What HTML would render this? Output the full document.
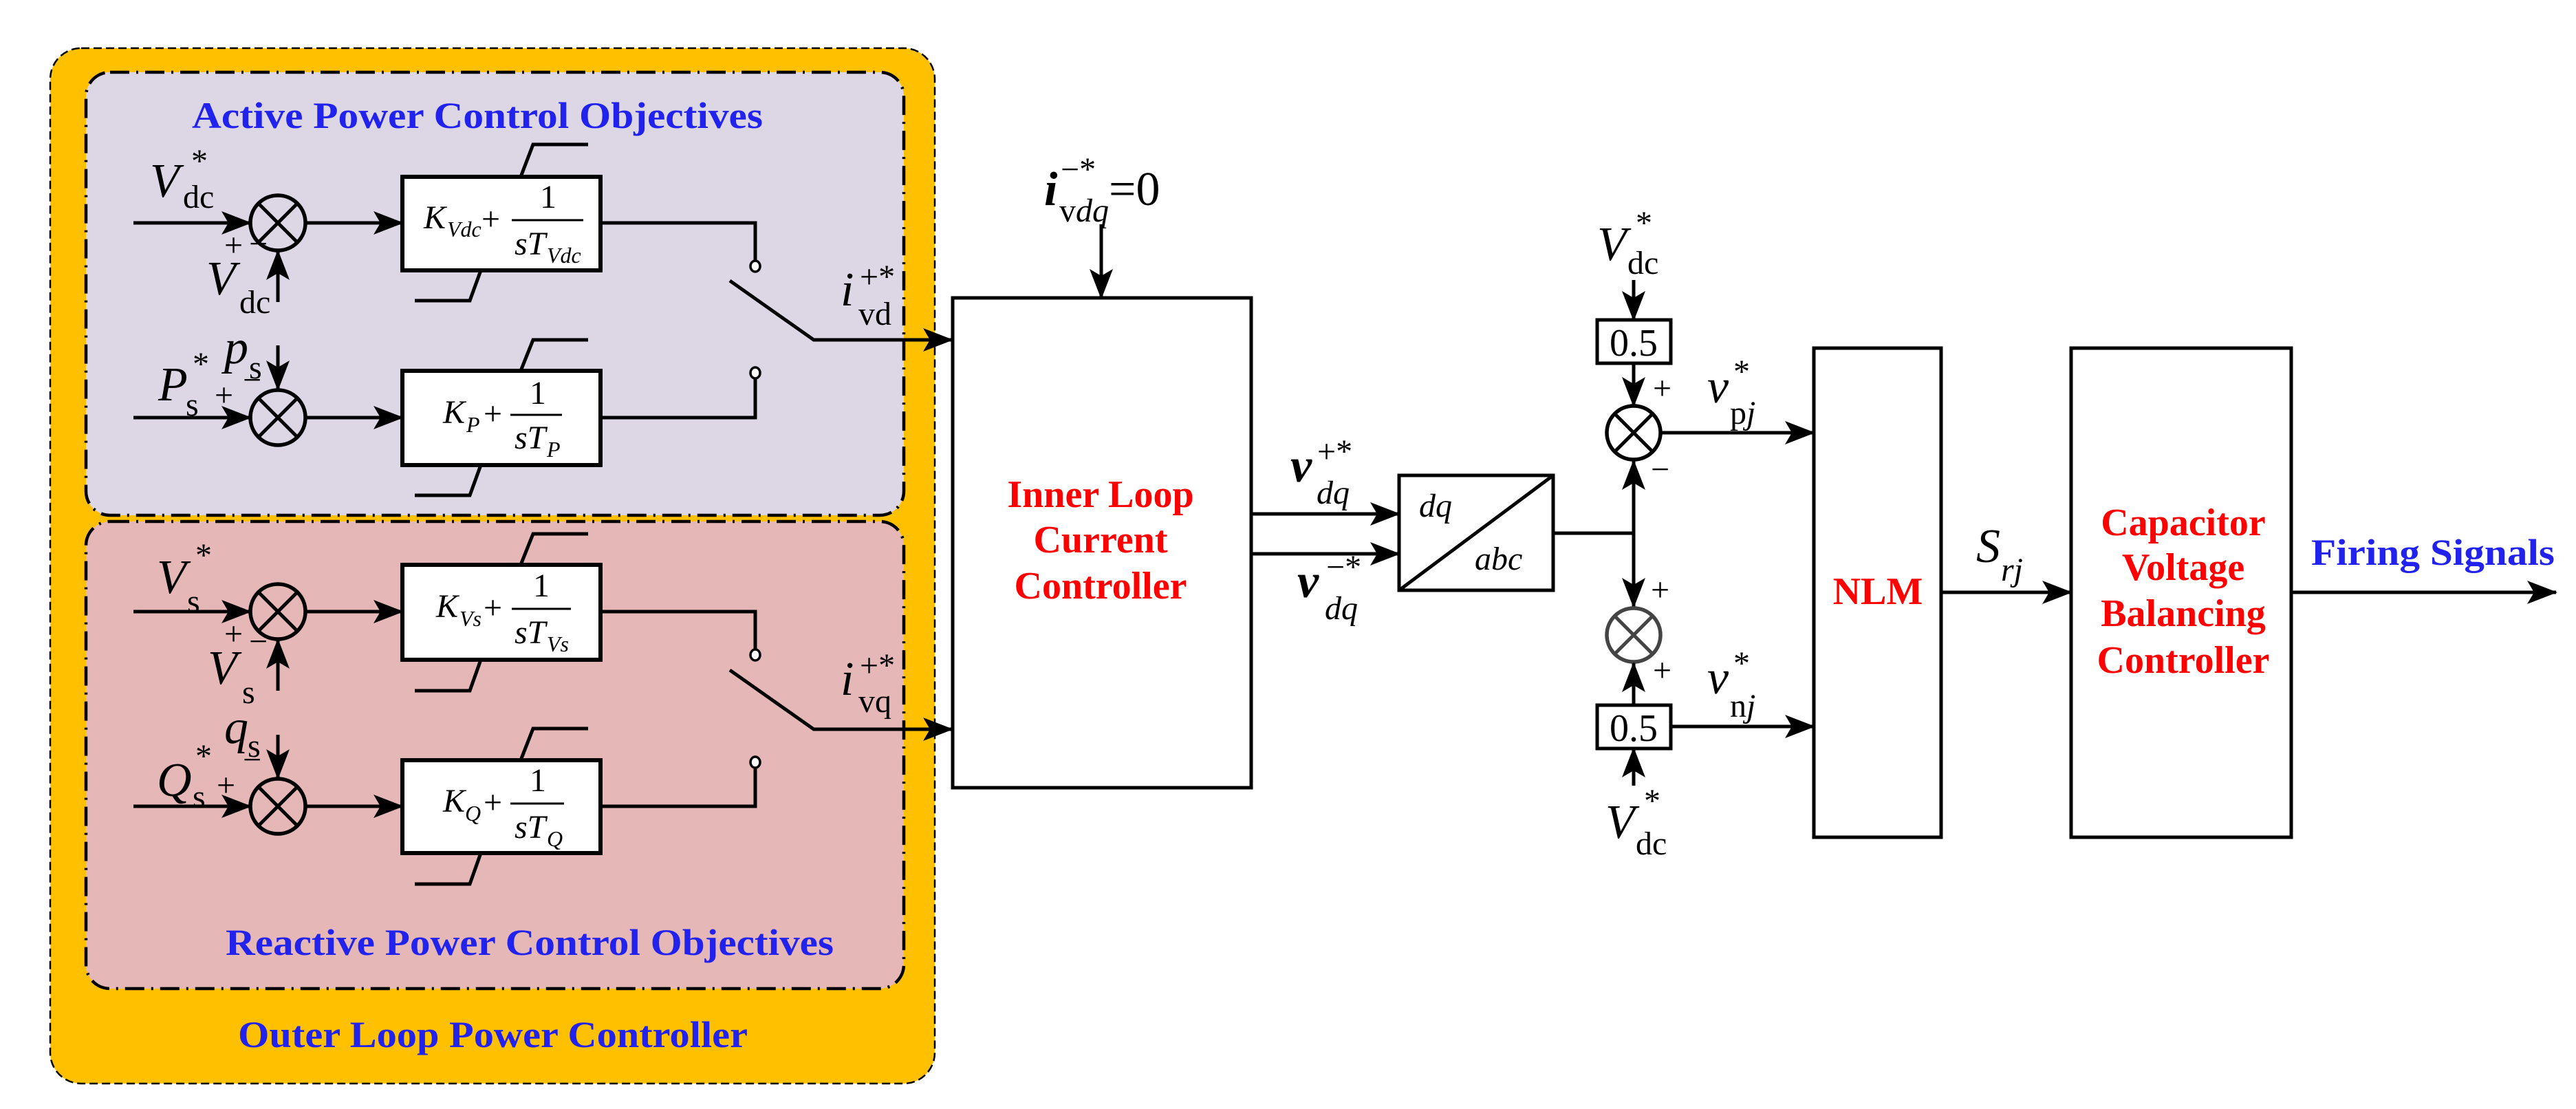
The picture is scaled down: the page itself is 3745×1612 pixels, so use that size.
<!DOCTYPE html>
<html><head><meta charset="utf-8"><style>
html,body{margin:0;padding:0;background:#fff}
svg{display:block}
svg text, svg tspan{font-family:"Liberation Serif","DejaVu Serif",serif !important}
.v{font-style:italic;font-size:70px}
.s{font-size:48px}
.si{font-size:48px;font-style:italic}
.f{font-size:48px}
.fs{font-size:32px}
.ttl{font-weight:bold;fill:#2222EE;font-size:54px}
.red{font-weight:bold;fill:#FF0000;font-size:56px}
</style></head><body>
<svg width="3745" height="1612" viewBox="0 0 3745 1612" xmlns="http://www.w3.org/2000/svg" font-family="Liberation Serif, serif">
<defs>
<marker id="a" markerUnits="userSpaceOnUse" markerWidth="44" markerHeight="34" refX="42" refY="17" orient="auto">
<path d="M0,0 L44,17 L0,34 L10,17 z" fill="#000"/>
</marker>
</defs>
<rect x="73" y="70" width="1286" height="1505" rx="45" fill="#FFC000" stroke="#000" stroke-width="2.5" stroke-dasharray="12,6"/>
<rect x="125" y="105" width="1189" height="644" rx="35" fill="#DCD6E5" stroke="#000" stroke-width="4.5" stroke-dasharray="28,10,3,10"/>
<rect x="125" y="758" width="1189" height="679" rx="35" fill="#E5B8B7" stroke="#000" stroke-width="4.5" stroke-dasharray="28,10,3,10"/>
<text x="279" y="186" class="ttl" textLength="830" lengthAdjust="spacingAndGlyphs">Active Power Control Objectives</text>
<text x="328" y="1388" class="ttl" textLength="884" lengthAdjust="spacingAndGlyphs">Reactive Power Control Objectives</text>
<text x="346" y="1522" class="ttl" textLength="741" lengthAdjust="spacingAndGlyphs">Outer Loop Power Controller</text>

<g stroke="#000" stroke-width="5" fill="none">
<line x1="194" y1="324" x2="364" y2="324" marker-end="url(#a)"/>
<line x1="444" y1="324" x2="585" y2="324" marker-end="url(#a)"/>
<line x1="194" y1="607" x2="364" y2="607" marker-end="url(#a)"/>
<line x1="444" y1="607" x2="585" y2="607" marker-end="url(#a)"/>
<line x1="194" y1="889" x2="364" y2="889" marker-end="url(#a)"/>
<line x1="444" y1="889" x2="585" y2="889" marker-end="url(#a)"/>
<line x1="194" y1="1172" x2="364" y2="1172" marker-end="url(#a)"/>
<line x1="444" y1="1172" x2="585" y2="1172" marker-end="url(#a)"/>
<line x1="404" y1="439" x2="404" y2="365" marker-end="url(#a)"/>
<line x1="404" y1="502" x2="404" y2="566" marker-end="url(#a)"/>
<line x1="404" y1="1004" x2="404" y2="930" marker-end="url(#a)"/>
<line x1="404" y1="1068" x2="404" y2="1131" marker-end="url(#a)"/>
<g stroke-width="5.5" fill="#DCD6E5">
<circle cx="404" cy="324" r="40"/><circle cx="404" cy="607" r="40"/>
</g>
<g stroke-width="5.5" fill="#E5B8B7">
<circle cx="404" cy="889" r="40"/><circle cx="404" cy="1172" r="40"/>
</g>
<path d="M376,296 L432,352 M432,296 L376,352 M376,579 L432,635 M432,579 L376,635 M376,861 L432,917 M432,861 L376,917 M376,1144 L432,1200 M432,1144 L376,1200"/>
<g stroke-width="6" fill="#fff">
<rect x="585" y="257" width="288" height="136"/>
<rect x="585" y="539" width="288" height="137"/>
<rect x="585" y="821" width="288" height="138"/>
<rect x="585" y="1105" width="288" height="135"/>
</g>
<path d="M757,257 L775,210 L855,210 M699,393 L683,437 L603,437"/>
<path d="M757,539 L775,494 L855,494 M699,676 L683,720 L603,720"/>
<path d="M757,821 L775,776 L855,776 M699,959 L683,1004 L603,1004"/>
<path d="M757,1105 L775,1059 L855,1059 M699,1240 L683,1285 L603,1285"/>
<path d="M873,324 L1098,324 L1098,380"/>
<path d="M873,607 L1098,607 L1098,550"/>
<path d="M873,889 L1098,889 L1098,945"/>
<path d="M873,1172 L1098,1172 L1098,1116"/>
<g stroke-width="3.5" fill="#fff">
<ellipse cx="1098" cy="387" rx="7" ry="8"/><ellipse cx="1098" cy="542" rx="7" ry="8"/>
<ellipse cx="1098" cy="952" rx="7" ry="8"/><ellipse cx="1098" cy="1108" rx="7" ry="8"/>
</g>
<path d="M1061,408 L1183,494 L1384,494" marker-end="url(#a)"/>
<path d="M1061,974 L1183,1060 L1384,1060" marker-end="url(#a)"/>
<rect x="1385" y="433" width="434" height="712" stroke-width="5" fill="#fff"/>
<line x1="1601" y1="326" x2="1601" y2="433" marker-end="url(#a)"/>
<line x1="1819" y1="747" x2="2034" y2="747" marker-end="url(#a)"/>
<line x1="1819" y1="805" x2="2034" y2="805" marker-end="url(#a)"/>
<rect x="2034" y="691" width="224" height="167" stroke-width="5" fill="#fff"/>
<line x1="2034" y1="858" x2="2258" y2="691"/>
<path d="M2258,775 L2375,775"/>
<line x1="2375" y1="775" x2="2375" y2="670" marker-end="url(#a)"/>
<line x1="2375" y1="775" x2="2375" y2="882" marker-end="url(#a)"/>
<circle cx="2375" cy="629" r="39" stroke-width="5.5" fill="#fff"/>
<path d="M2348,602 L2402,656 M2402,602 L2348,656"/>
<g stroke="#444"><circle cx="2375" cy="923" r="39" stroke-width="5.5" fill="#fff"/>
<path d="M2348,896 L2402,950 M2402,896 L2348,950"/></g>
<rect x="2322" y="465" width="107" height="63" stroke-width="5" fill="#fff"/>
<rect x="2322" y="1025" width="107" height="63" stroke-width="5" fill="#fff"/>
<line x1="2375" y1="407" x2="2375" y2="465" marker-end="url(#a)"/>
<line x1="2375" y1="528" x2="2375" y2="590" marker-end="url(#a)"/>
<line x1="2375" y1="1025" x2="2375" y2="964" marker-end="url(#a)"/>
<line x1="2375" y1="1142" x2="2375" y2="1088" marker-end="url(#a)"/>
<line x1="2414" y1="629" x2="2637" y2="629" marker-end="url(#a)"/>
<line x1="2429" y1="1056" x2="2637" y2="1056" marker-end="url(#a)"/>
<rect x="2637" y="506" width="185" height="711" stroke-width="5" fill="#fff"/>
<line x1="2822" y1="861" x2="3011" y2="861" marker-end="url(#a)"/>
<rect x="3011" y="506" width="320" height="711" stroke-width="5" fill="#fff"/>
<line x1="3331" y1="861" x2="3716" y2="861" marker-end="url(#a)"/>
</g>

<text x="218" y="286" class="v">V</text><text x="266" y="302" class="s">dc</text><text x="278" y="250" class="s">*</text>
<text x="326" y="372" class="s">+</text><text x="362" y="370" class="s">−</text>
<text x="300" y="428" class="v">V</text><text x="348" y="455" class="s">dc</text>
<text x="326" y="528" class="v">p</text><text x="362" y="550" class="s">s</text>
<text x="353" y="568" class="s">−</text><text x="312" y="590" class="s">+</text>
<text x="230" y="582" class="v">P</text><text x="270" y="604" class="s">s</text><text x="280" y="545" class="s">*</text>
<text x="228" y="862" class="v">V</text><text x="272" y="890" class="s">s</text><text x="284" y="823" class="s">*</text>
<text x="326" y="937" class="s">+</text><text x="362" y="948" class="s">−</text>
<text x="302" y="994" class="v">V</text><text x="352" y="1022" class="s">s</text>
<text x="326" y="1080" class="v">q</text><text x="360" y="1100" class="s">s</text>
<text x="353" y="1120" class="s">−</text><text x="315" y="1157" class="s">+</text>
<text x="228" y="1157" class="v">Q</text><text x="280" y="1174" class="s">s</text><text x="284" y="1115" class="s">*</text>
<text x="1222" y="444" class="v">i</text><text x="1250" y="418" class="s">+*</text><text x="1248" y="472" class="s">vd</text>
<text x="1222" y="1010" class="v">i</text><text x="1250" y="983" class="s">+*</text><text x="1248" y="1035" class="s">vq</text>

<text x="616" y="332" class="f" font-style="italic">K</text><text x="650" y="344" class="fs" font-style="italic">Vdc</text>
<text x="700" y="334" class="f">+</text><line x1="744" y1="320" x2="848" y2="320" stroke="#000" stroke-width="3"/>
<text x="785" y="302" class="f">1</text><text x="748" y="370" class="f" font-style="italic">sT</text><text x="795" y="382" class="fs" font-style="italic">Vdc</text>

<text x="644" y="615" class="f" font-style="italic">K</text><text x="678" y="628" class="fs" font-style="italic">P</text>
<text x="703" y="617" class="f">+</text><line x1="742" y1="603" x2="817" y2="603" stroke="#000" stroke-width="3"/>
<text x="770" y="587" class="f">1</text><text x="748" y="652" class="f" font-style="italic">sT</text><text x="795" y="664" class="fs" font-style="italic">P</text>

<text x="634" y="897" class="f" font-style="italic">K</text><text x="668" y="910" class="fs" font-style="italic">Vs</text>
<text x="703" y="899" class="f">+</text><line x1="744" y1="885" x2="830" y2="885" stroke="#000" stroke-width="3"/>
<text x="775" y="867" class="f">1</text><text x="748" y="935" class="f" font-style="italic">sT</text><text x="795" y="947" class="fs" font-style="italic">Vs</text>

<text x="644" y="1180" class="f" font-style="italic">K</text><text x="676" y="1193" class="fs" font-style="italic">Q</text>
<text x="703" y="1182" class="f">+</text><line x1="742" y1="1168" x2="820" y2="1168" stroke="#000" stroke-width="3"/>
<text x="770" y="1150" class="f">1</text><text x="748" y="1218" class="f" font-style="italic">sT</text><text x="795" y="1230" class="fs" font-style="italic">Q</text>

<text x="1518" y="298" class="v" font-weight="bold">i</text><text x="1542" y="262" class="s">−*</text><text x="1540" y="322" class="s">v<tspan font-style="italic">dq</tspan></text><text x="1612" y="298" font-size="70">=0</text>
<text x="1600" y="737" class="red" text-anchor="middle">Inner Loop</text>
<text x="1600" y="803" class="red" text-anchor="middle">Current</text>
<text x="1600" y="870" class="red" text-anchor="middle">Controller</text>
<text x="1876" y="700" class="v" font-weight="bold">v</text><text x="1915" y="672" class="s">+*</text><text x="1914" y="732" class="si">dq</text>
<text x="1886" y="868" class="v" font-weight="bold">v</text><text x="1928" y="840" class="s">−*</text><text x="1926" y="900" class="si">dq</text>
<text x="2063" y="751" class="si" font-size="54">dq</text>
<text x="2144" y="828" class="si" font-size="54">abc</text>
<text x="2375" y="517" font-size="56" text-anchor="middle">0.5</text>
<text x="2375" y="1077" font-size="56" text-anchor="middle">0.5</text>
<text x="2322" y="378" class="v">V</text><text x="2366" y="398" class="s">dc</text><text x="2378" y="340" class="s">*</text>
<text x="2334" y="1218" class="v">V</text><text x="2378" y="1242" class="s">dc</text><text x="2390" y="1180" class="s">*</text>
<text x="2403" y="580" class="s">+</text><text x="2400" y="698" class="s">−</text>
<text x="2400" y="873" class="s">+</text><text x="2403" y="990" class="s">+</text>
<text x="2482" y="585" class="v">v</text><text x="2520" y="556" class="s">*</text><text x="2515" y="616" class="s">p<tspan font-style="italic">j</tspan></text>
<text x="2482" y="1008" class="v">v</text><text x="2520" y="980" class="s">*</text><text x="2515" y="1042" class="s">n<tspan font-style="italic">j</tspan></text>
<text x="2730" y="878" class="red" text-anchor="middle">NLM</text>
<text x="2873" y="817" class="v">S</text><text x="2909" y="844" class="si">rj</text>
<text x="3174" y="778" class="red" text-anchor="middle">Capacitor</text>
<text x="3174" y="843" class="red" text-anchor="middle">Voltage</text>
<text x="3174" y="910" class="red" text-anchor="middle">Balancing</text>
<text x="3174" y="978" class="red" text-anchor="middle">Controller</text>
<text x="3360" y="821" class="ttl" textLength="354" lengthAdjust="spacingAndGlyphs">Firing Signals</text>
</svg>
</body></html>
